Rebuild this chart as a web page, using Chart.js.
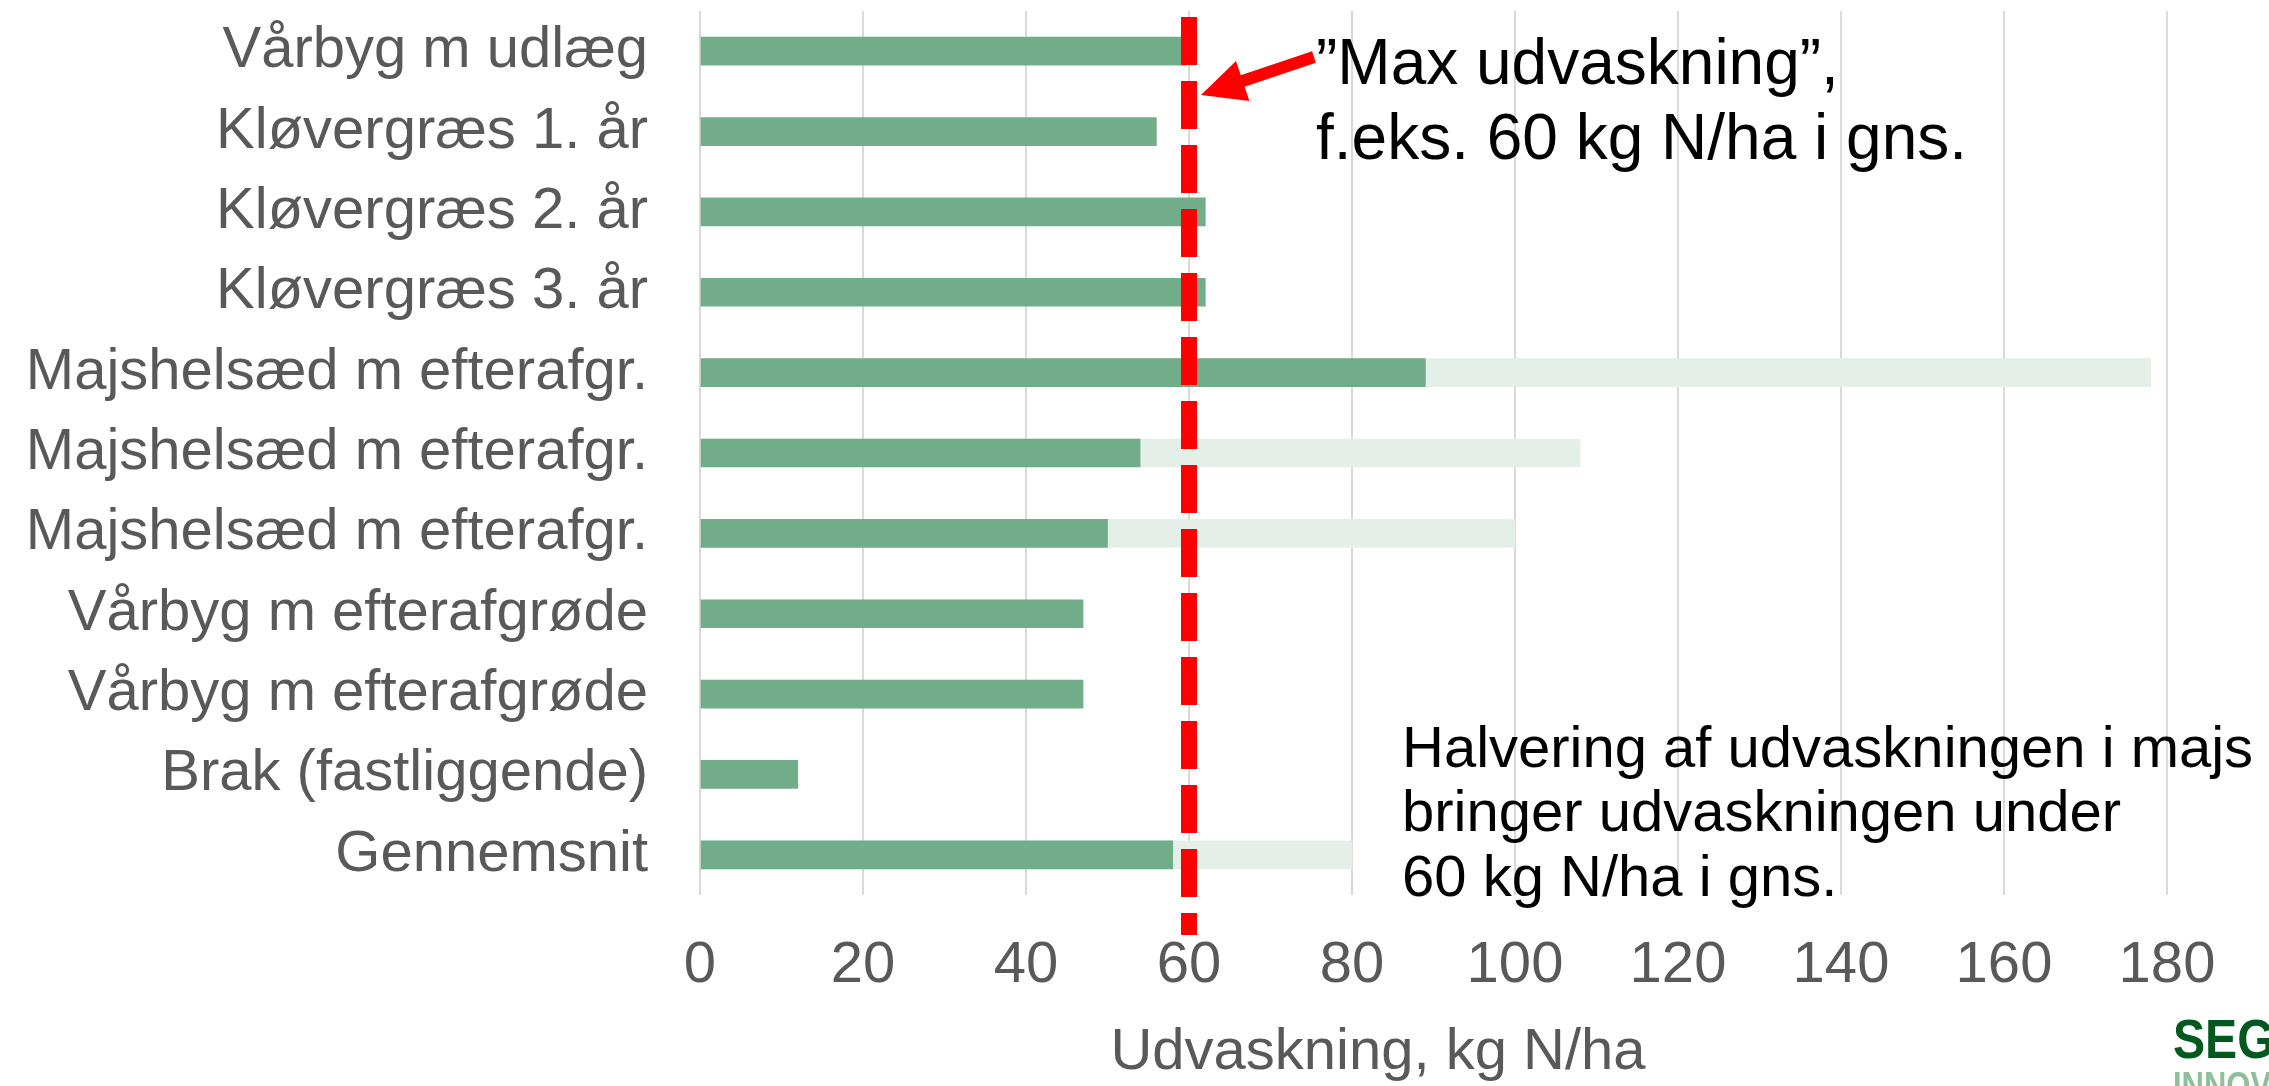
<!DOCTYPE html>
<html lang="da">
<head>
<meta charset="UTF-8">
<title>Udvaskning, kg N/ha</title>
<script src="https://cdn.jsdelivr.net/npm/chart.js"></script>
<style>
  html, body { margin: 0; padding: 0; background: #fff; }
  #wrap { width: 2269px; height: 1086px; position: relative; }
</style>
</head>
<body>
<div id="wrap"><canvas id="chart"></canvas></div>
<script>
  // data
  const categories = [
    'Vårbyg m udlæg',
    'Kløvergræs 1. år',
    'Kløvergræs 2. år',
    'Kløvergræs 3. år',
    'Majshelsæd m efterafgr.',
    'Majshelsæd m efterafgr.',
    'Majshelsæd m efterafgr.',
    'Vårbyg m efterafgrøde',
    'Vårbyg m efterafgrøde',
    'Brak (fastliggende)',
    'Gennemsnit'
  ];
  const halvedValues = [59.5, 56, 62, 62, 89, 54, 50, 47, 47, 12, 58];
  const currentValues = [null, null, null, null, 178, 108, 100, null, null, null, 80];
  const xTicks = [0, 20, 40, 60, 80, 100, 120, 140, 160, 180];
  const maxLine = 60;

  const axisTitle = 'Udvaskning, kg N/ha';
  const topNote = ['\u201DMax udvaskning\u201D,', 'f.eks. 60 kg N/ha i gns.'];
  const bottomNote = ['Halvering af udvaskningen i majs', 'bringer udvaskningen under', '60 kg N/ha i gns.'];

  const FONT = '"Liberation Sans", Arial, sans-serif';
  const GREY = '#595959';

  const overlay = {
    id: 'overlay',
    afterDatasetsDraw(chart) {
      const { ctx, chartArea, scales: { x } } = chart;
      const lx = x.getPixelForValue(maxLine);
      ctx.save();

      // dashed limit line
      ctx.strokeStyle = '#ff0000';
      ctx.lineWidth = 16;
      ctx.setLineDash([48, 16]);
      ctx.beginPath();
      ctx.moveTo(lx, chartArea.top + 6);
      ctx.lineTo(lx, chartArea.bottom + 40);
      ctx.stroke();
      ctx.setLineDash([]);

      // arrow pointing at the line
      const tip = { x: lx + 12, y: 95 };
      const tail = { x: lx + 125, y: 57 };
      const a = Math.atan2(tail.y - tip.y, tail.x - tip.x);
      const ux = Math.cos(a), uy = Math.sin(a);
      const headLen = 44, headW = 21;
      ctx.fillStyle = '#ff0000';
      ctx.lineWidth = 12;
      ctx.beginPath();
      ctx.moveTo(tail.x, tail.y);
      ctx.lineTo(tip.x + ux * (headLen - 4), tip.y + uy * (headLen - 4));
      ctx.stroke();
      ctx.beginPath();
      ctx.moveTo(tip.x, tip.y);
      ctx.lineTo(tip.x + ux * headLen - uy * headW, tip.y + uy * headLen + ux * headW);
      ctx.lineTo(tip.x + ux * headLen + uy * headW, tip.y + uy * headLen - ux * headW);
      ctx.closePath();
      ctx.fill();

      ctx.restore();
    },
    afterDraw(chart) {
      const { ctx } = chart;
      ctx.save();
      ctx.fillStyle = '#000';
      ctx.textAlign = 'left';
      ctx.textBaseline = 'alphabetic';

      ctx.font = '64px ' + FONT;
      ctx.fillText(topNote[0], 1316, 84);
      ctx.fillText(topNote[1], 1316, 159);

      ctx.font = '58px ' + FONT;
      ctx.fillText(bottomNote[0], 1402, 767);
      ctx.fillText(bottomNote[1], 1402, 831);
      ctx.fillText(bottomNote[2], 1402, 896);

      // axis title (sits left of the plot centre in the original)
      ctx.fillStyle = GREY;
      ctx.textAlign = 'center';
      ctx.textBaseline = 'middle';
      ctx.fillText(axisTitle, 1378, 1053);

      // logo, cut by the edge
      ctx.textAlign = 'left';
      ctx.textBaseline = 'alphabetic';
      ctx.save();
      ctx.translate(2173, 1058);
      ctx.scale(0.86, 1);
      ctx.font = 'bold 56px ' + FONT;
      ctx.fillStyle = '#005a1e';
      ctx.fillText('SEGES', 0, 0);
      ctx.restore();
      ctx.save();
      ctx.translate(2173, 1098);
      ctx.scale(0.86, 1);
      ctx.font = 'bold 36px ' + FONT;
      ctx.fillStyle = '#8dbf9c';
      ctx.fillText('INNOVATION', 0, 0);
      ctx.restore();

      ctx.restore();
    }
  };

  new Chart(document.getElementById('chart'), {
    type: 'bar',
    data: {
      labels: categories,
      datasets: [
        {
          label: 'Halveret',
          data: halvedValues,
          backgroundColor: '#72ad89',
          barThickness: 28,
          grouped: false,
          order: 1
        },
        {
          label: 'Nuværende',
          data: currentValues,
          backgroundColor: '#e4efe7',
          barThickness: 28,
          grouped: false,
          order: 2
        }
      ]
    },
    options: {
      indexAxis: 'y',
      responsive: true,
      maintainAspectRatio: false,
      animation: false,
      layout: { padding: { top: 11, right: 102, left: 0, bottom: 0 } },
      plugins: {
        legend: { display: false },
        tooltip: { enabled: false }
      },
      scales: {
        x: {
          min: 0,
          max: 180,
          afterBuildTicks: s => { s.ticks = xTicks.map(v => ({ value: v })); },
          afterFit: s => { s.height = 191; s.paddingLeft = 0; s.paddingRight = 0; },
          grid: { color: '#d9d9d9', lineWidth: 2, drawTicks: false },
          border: { display: false },
          ticks: { color: GREY, font: { size: 58, family: FONT }, padding: 36, maxRotation: 0 }
        },
        y: {
          afterFit: s => { s.width = 700; s.paddingTop = 0; s.paddingBottom = 0; },
          grid: { display: false, drawTicks: false },
          border: { display: false },
          ticks: { color: GREY, font: { size: 58, family: FONT }, padding: 52, autoSkip: false }
        }
      }
    },
    plugins: [overlay]
  });
</script>
</body>
</html>
